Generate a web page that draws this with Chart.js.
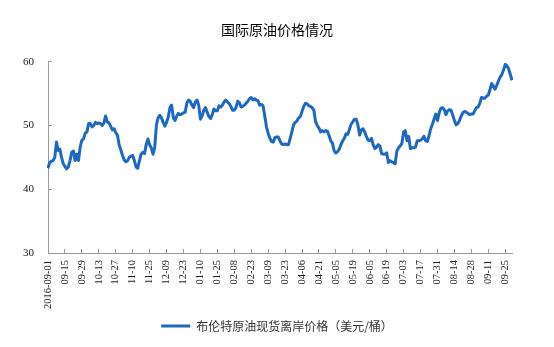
<!DOCTYPE html>
<html>
<head>
<meta charset="utf-8">
<script src="https://cdn.jsdelivr.net/npm/chart.js@4/dist/chart.umd.min.js"></script>
<style>
  html, body { margin: 0; padding: 0; background: #fff; }
  #wrap { width: 554px; height: 347px; }
</style>
</head>
<body>
<div id="wrap"><canvas id="brentChart"></canvas></div>
<script>
// tick labels, one every 10 trading days
const tickLabels = [
  "2016-09-01", "09-15", "09-29", "10-13", "10-27", "11-10", "11-25",
  "12-09", "12-23", "01-10", "01-25", "02-08", "02-23", "03-09",
  "03-23", "04-06", "04-21", "05-05", "05-19", "06-05", "06-19",
  "07-03", "07-17", "07-31", "08-14", "08-28", "09-11", "09-25",
];

// Brent FOB spot, USD/bbl, daily
const brentPrice = [
  43.3, 44.2, 44.4, 44.5, 45.0, 47.4, 46.1, 46.3, 45.0, 44.0,
  43.6, 43.2, 43.5, 44.5, 45.8, 46.0, 44.5, 45.5, 44.5, 46.6,
  47.7, 47.9, 48.8, 49.0, 50.3, 50.3, 49.8, 50.0, 50.5, 50.3,
  50.4, 50.3, 50.0, 50.4, 51.5, 50.6, 50.4, 49.9, 49.3, 49.5,
  48.9, 48.5, 47.0, 46.2, 45.3, 44.6, 44.3, 44.5, 45.0, 45.2,
  45.3, 44.5, 43.5, 43.3, 44.5, 45.5, 45.8, 45.6, 47.0, 47.9,
  47.0, 46.5, 45.5, 46.5, 50.0, 51.2, 51.6, 51.2, 50.5, 49.9,
  50.5, 51.3, 52.8, 53.2, 51.2, 50.8, 51.5, 51.9, 51.7, 51.8,
  52.0, 52.1, 53.5, 54.0, 53.8, 53.2, 52.8, 53.7, 54.0, 53.2,
  51.0, 51.5, 52.4, 52.8, 52.1, 51.4, 51.1, 51.7, 52.6, 52.3,
  52.3, 53.1, 52.9, 53.2, 53.7, 54.0, 53.7, 53.4, 53.0, 52.4,
  52.4, 52.8, 53.8, 53.6, 52.9, 53.0, 53.2, 53.5, 53.8, 54.2,
  54.4, 54.0, 54.2, 54.0, 53.9, 53.2, 53.3, 53.1, 51.5, 49.8,
  48.8, 48.0, 47.5, 47.4, 48.1, 48.2, 48.2, 47.6, 47.1, 47.0,
  47.1, 47.0, 47.0, 48.0, 49.0, 50.1, 50.5, 50.7, 51.2, 51.4,
  52.2, 53.0, 53.5, 53.4, 53.1, 53.0, 52.8, 52.4, 50.6, 50.0,
  49.6, 49.0, 49.2, 49.0, 49.2, 49.1, 48.4, 47.6, 47.2, 46.0,
  45.7, 45.9, 46.3, 47.0, 47.6, 48.0, 48.7, 48.6, 49.4, 50.2,
  50.6, 51.0, 51.0, 50.1, 48.5, 49.3, 49.5, 49.0, 48.3, 47.7,
  47.6, 48.0, 47.0, 46.4, 46.6, 47.0, 46.8, 45.6, 45.5, 45.5,
  45.7, 44.2, 44.5, 44.3, 44.2, 44.0, 46.0, 46.5, 46.8, 47.2,
  49.0, 49.2, 47.6, 48.3, 46.4, 46.5, 46.5, 46.6, 47.6, 47.6,
  47.7, 47.9, 48.3, 47.6, 47.5, 48.4, 49.5, 50.2, 51.0, 51.8,
  50.8, 52.0, 52.7, 52.8, 52.5, 51.7, 52.3, 52.5, 52.4, 51.6,
  50.8, 50.1, 50.3, 50.8, 51.5, 52.0, 52.2, 52.1, 51.9, 51.7,
  51.8, 51.8, 52.3, 52.8, 52.9, 53.5, 54.4, 54.3, 54.3, 54.6,
  54.8, 55.6, 56.6, 56.2, 55.7, 56.3, 57.0, 57.6, 58.0, 58.7,
  59.6, 59.4, 58.9, 58.0, 57.1,
];

const yMin = 30;
const yMax = 60;
const yStep = 10;

const labels = brentPrice.map((_, i) => (i % 10 === 0 ? tickLabels[i / 10] : ""));

const axisColor = "#9a9a9a";
const cjkFont = "'Noto Sans CJK SC', 'Noto Sans', sans-serif";
const serifFont = "'Liberation Serif', 'DejaVu Serif', serif";

new Chart(document.getElementById("brentChart"), {
  type: "line",
  data: {
    labels: labels,
    datasets: [
      {
        label: "布伦特原油现货离岸价格（美元/桶）",
        data: brentPrice,
        borderColor: "#1f68c1",
        backgroundColor: "#1f68c1",
        borderWidth: 3,
        pointRadius: 0,
        tension: 0,
        fill: false,
        borderJoinStyle: "round",
      },
    ],
  },
  options: {
    responsive: true,
    maintainAspectRatio: false,
    animation: false,
    devicePixelRatio: 1,
    layout: { padding: { left: 0, right: 0, top: 0, bottom: 5 } },
    plugins: {
      title: {
        display: true,
        text: "国际原油价格情况",
        color: "#000",
        font: { family: cjkFont, size: 14, weight: "normal" },
        padding: { top: 21, bottom: 24 },
      },
      legend: {
        position: "bottom",
        labels: {
          usePointStyle: true,
          pointStyle: "line",
          pointStyleWidth: 29,
          color: "#333",
          font: { family: cjkFont, size: 12 },
          padding: 10,
        },
      },
      tooltip: { enabled: false },
    },
    scales: {
      x: {
        type: "category",
        offset: false,
        // only keep the labelled ticks
        afterBuildTicks: (scale) => {
          scale.ticks = scale.ticks.filter((t) => t.value % 10 === 0);
        },
        afterFit: (scale) => {
          scale.height = 57;
        },
        border: { color: axisColor, width: 1 },
        grid: {
          drawOnChartArea: false,
          drawTicks: true,
          tickLength: -4, // ticks point into the plot
          color: axisColor,
        },
        ticks: {
          autoSkip: false,
          minRotation: 90,
          maxRotation: 90,
          padding: 11,
          color: "#222",
          font: { family: serifFont, size: 10.5 },
        },
      },
      y: {
        min: yMin,
        max: yMax,
        afterFit: (scale) => {
          scale.width = 48;
        },
        border: { color: axisColor, width: 1 },
        grid: {
          drawOnChartArea: false,
          drawTicks: true,
          tickLength: -4,
          color: axisColor,
        },
        ticks: {
          stepSize: yStep,
          padding: 18,
          color: "#222",
          font: { family: serifFont, size: 11 },
        },
      },
      // empty right-hand gutter so title and legend stay centred on the page
      gutter: {
        position: "right",
        display: true,
        grid: { display: false },
        border: { display: false },
        ticks: { display: false },
        afterFit: (scale) => {
          scale.width = 42;
        },
      },
    },
  },
});
</script>
</body>
</html>
